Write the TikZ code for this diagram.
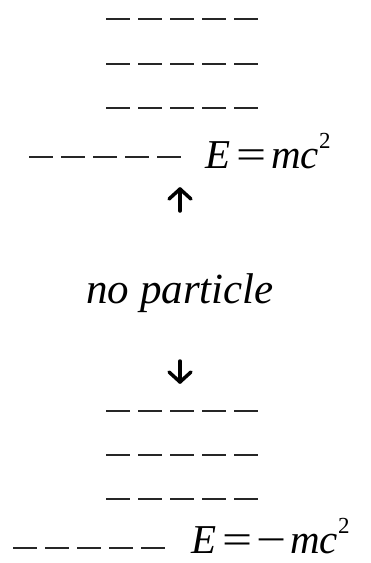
\documentclass[tikz,border=0pt]{standalone}
\usepackage{fontspec}
\setmainfont{Liberation Serif}
\begin{document}
\begin{tikzpicture}[x=1pt,y=-1pt,
  level/.style={line width=2.8pt,draw=black!85,dash pattern=on 24pt off 8pt},
  eq/.style={inner sep=0pt,anchor=base west,text depth=0pt,font=\fontsize{41}{41}\selectfont},
  lbl/.style={inner sep=0pt,anchor=base,font=\fontsize{43}{43}\selectfont\itshape},
  arr/.style={line width=3.5pt,black,line cap=round,line join=round}]
\useasboundingbox (0,0) rectangle (371,563);
% upper levels
\draw[level] (106,19) -- (258,19);
\draw[level] (106,64) -- (258,64);
\draw[level] (106,108) -- (258,108);
\draw[level] (29,157) -- (182,157);
\node[eq] (ep) at (205,168) {\textit{E}\hspace{6pt}\scalebox{1.3}[1]{=}\hspace{5pt}\textit{mc}\raisebox{0.48em}{\fontsize{23}{23}\selectfont 2}};
% label
\node[lbl] (np) at (180,303) {no particle};
% arrows
\coordinate (ut) at (180,189);
\coordinate (ub) at (180,211);
\draw[arr] (ub) -- (ut);
\draw[arr] (169,199) -- (ut) -- (191,199);
\coordinate (dt) at (180,361);
\coordinate (db) at (180,382);
\draw[arr] (dt) -- (db);
\draw[arr] (169,372) -- (db) -- (191,372);
% lower levels
\draw[level] (106,411) -- (258,411);
\draw[level] (106,455) -- (258,455);
\draw[level] (106,499) -- (258,499);
\draw[level] (13,548) -- (165,548);
\node[eq] (en) at (191,553) {\textit{E}\hspace{6pt}\scalebox{1.3}[1]{=}\hspace{4pt}\scalebox{1.3}[1]{\textminus}\hspace{4pt}\textit{mc}\raisebox{0.48em}{\fontsize{23}{23}\selectfont 2}};
\end{tikzpicture}
\end{document}
